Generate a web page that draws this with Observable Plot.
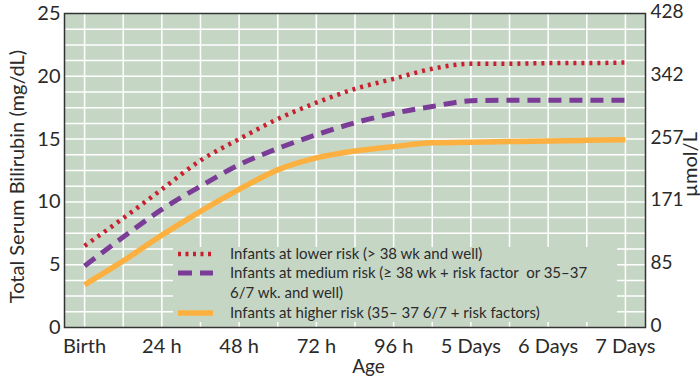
<!DOCTYPE html>
<html>
<head>
<meta charset="utf-8">
<script src="https://cdn.jsdelivr.net/npm/d3@7"></script>
<script src="https://cdn.jsdelivr.net/npm/@observablehq/plot@0.6"></script>
<style>
  html, body { margin: 0; padding: 0; background: #fff; }
  #wrap { position: relative; width: 700px; height: 383px; font-family: Lato, "Open Sans", sans-serif; color: #2a2a2a; }
  #legend { position: absolute; left: 173px; top: 247px; width: 444px; height: 75px; }
  .row { position: absolute; left: 0; display: flex; align-items: flex-start; }
  .row svg { flex: none; }
  .row span { font-size: 15px; line-height: 19.5px; white-space: pre; color: #2a2a2a; margin-left: 15px; }
</style>
</head>
<body>
<div id="wrap"></div>
<script>
// ---- data ----
const days = [0, 0.5, 1, 1.5, 2, 2.5, 3, 3.5, 4, 4.5, 5, 5.5, 6, 6.5, 7];
const lowerRisk  = [6.5, 8.7, 11.0, 13.3, 15.0, 16.6, 17.9, 19.0, 19.8, 20.6, 21.0, 21.0, 21.05, 21.05, 21.1];
const mediumRisk = [4.9, 7.2, 9.4, 11.25, 12.95, 14.25, 15.35, 16.3, 17.05, 17.6, 18.05, 18.1, 18.1, 18.1, 18.1];
const higherRisk = [3.4, 5.3, 7.35, 9.25, 11.0, 12.55, 13.5, 14.05, 14.4, 14.7, 14.75, 14.8, 14.85, 14.9, 14.95];

const seriesNames = ["lower", "medium", "higher"];
const legendLabels = [
  "Infants at lower risk (> 38 wk and well)",
  "Infants at medium risk (\u2265 38 wk + risk factor  or 35\u201337\n6/7 wk. and well)",
  "Infants at higher risk (35\u2013 37 6/7 + risk factors)"
];

const xTicks = [0, 1, 2, 3, 4, 5, 6, 7];
const xTickLabels = ["Birth", "24 h", "48 h", "72 h", "96 h", "5 Days", "6 Days", "7 Days"];
const yTicks = [0, 5, 10, 15, 20, 25];
const umolLabels = ["0", "85", "171", "257", "342", "428"];

// ---- styles ----
const bg = "#c6d6c5";
const ink = "#2a2a2a";
const styles = {
  lower:  {stroke: "#c8202f", strokeWidth: 4.5, strokeDasharray: "3,5"},
  medium: {stroke: "#7b3c98", strokeWidth: 5,   strokeDasharray: "13,8"},
  higher: {stroke: "#fbb040", strokeWidth: 5.5, strokeDasharray: null}
};

const seriesValues = {lower: lowerRisk, medium: mediumRisk, higher: higherRisk};
const rows = seriesNames.flatMap(s => days.map((d, i) => ({series: s, day: d, value: seriesValues[s][i]})));

const xGrid = d3.range(0, 7.01, 0.5);
const yGrid = d3.range(1.25, 24.9, 1.25);

const chart = Plot.plot({
  width: 700,
  height: 383,
  marginLeft: 64,
  marginRight: 55,
  marginTop: 13,
  marginBottom: 56,
  style: {fontFamily: "Lato, 'Open Sans', sans-serif", color: ink, background: "transparent"},
  x: {domain: [-0.26, 7.26]},
  y: {domain: [0, 25]},
  marks: [
    Plot.frame({fill: bg}),
    Plot.gridX(xGrid, {stroke: "#fff", strokeOpacity: 1, strokeWidth: 1.5}),
    Plot.gridY(yGrid, {stroke: "#fff", strokeOpacity: 1, strokeWidth: 1.5}),
    ...seriesNames.map(s => Plot.line(rows.filter(r => r.series === s), {
      x: "day", y: "value", curve: "monotone-x",
      stroke: styles[s].stroke, strokeWidth: styles[s].strokeWidth,
      strokeDasharray: styles[s].strokeDasharray, strokeLinecap: "butt"
    })),
    Plot.frame({stroke: "#333", strokeWidth: 1.5}),
    Plot.axisX(xTicks, {tickSize: 0, tickPadding: 11, fontSize: 20, tickFormat: (d, i) => xTickLabels[i], label: null}),
    Plot.axisY(yTicks, {anchor: "left", tickSize: 0, tickPadding: 4, fontSize: 20, label: null}),
    Plot.axisY(yTicks, {anchor: "right", tickSize: 0, tickPadding: 5, fontSize: 19, dy: -1.5, tickFormat: (d, i) => umolLabels[i], label: null}),
    Plot.text(["Total Serum Bilirubin (mg/dL)"], {frameAnchor: "left", rotate: -90, dx: -47, dy: 6, fontSize: 20, textAnchor: "middle", fill: ink}),
    Plot.text(["\u00b5mol/L"], {frameAnchor: "right", rotate: -90, dx: 45, dy: -6, fontSize: 20, textAnchor: "middle", fill: ink}),
    Plot.text(["Age"], {frameAnchor: "bottom", dx: 13.5, dy: 32, lineAnchor: "top", fontSize: 19, textAnchor: "middle", fill: ink})
  ]
});

const wrap = document.getElementById("wrap");
wrap.appendChild(chart);

// ---- legend overlay ----
const legend = document.createElement("div");
legend.id = "legend";
legend.style.background = bg;
const rowTops = [-3.5, 16, 55.5];
seriesNames.forEach((s, i) => {
  const row = document.createElement("div");
  row.className = "row";
  row.style.top = rowTops[i] + "px";
  const st = styles[s];
  row.innerHTML =
    `<svg width="42" height="19.5"><line x1="5" x2="40" y1="10" y2="10" stroke="${st.stroke}" stroke-width="${st.strokeWidth}"` +
    (s === "lower" ? ` stroke-dasharray="3,4.5"` : s === "medium" ? ` stroke-dasharray="14,8"` : "") +
    `/></svg><span></span>`;
  row.querySelector("span").textContent = legendLabels[i];
  legend.appendChild(row);
});
wrap.appendChild(legend);
</script>
</body>
</html>
